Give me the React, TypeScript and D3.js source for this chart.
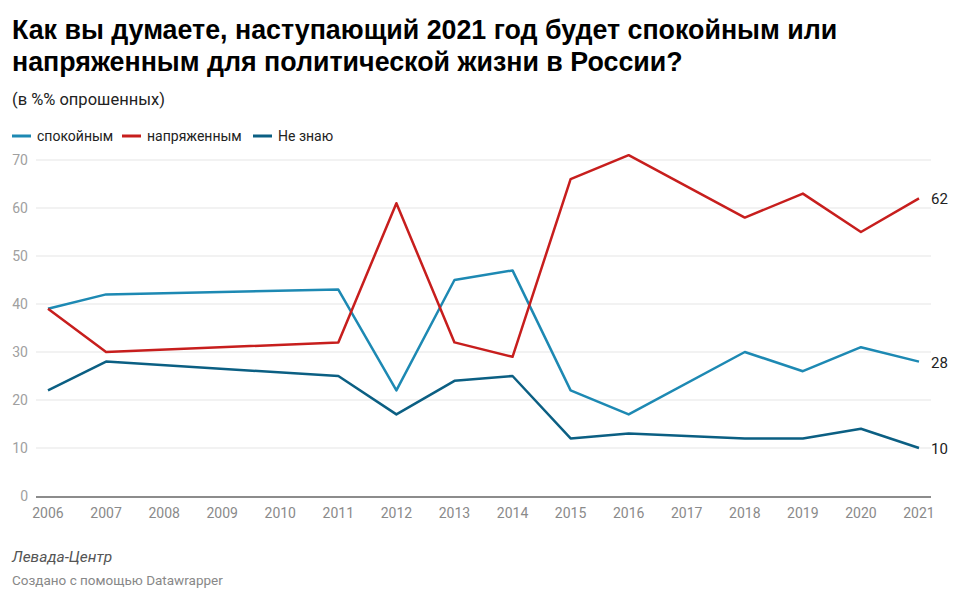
import React from "react";
import * as d3 from "d3";

const years = [2006, 2007, 2011, 2012, 2013, 2014, 2015, 2016, 2018, 2019, 2020, 2021];
const calm = [39, 42, 43, 22, 45, 47, 22, 17, 30, 26, 31, 28];
const tense = [39, 30, 32, 61, 32, 29, 66, 71, 58, 63, 55, 62];
const dontKnow = [22, 28, 25, 17, 24, 25, 12, 13, 12, 12, 14, 10];
const seriesNames = ["спокойным", "напряженным", "Не знаю"];
const seriesColors = ["#1d89b3", "#c71e1d", "#0b5f83"];
const yTicks = [0, 10, 20, 30, 40, 50, 60, 70];
const xTicks = d3.range(2006, 2022);

export default function App() {
  const W = 974, H = 608;
  const x = d3.scaleLinear().domain([2006, 2021]).range([48, 919]);
  const y = d3.scaleLinear().domain([0, 70]).range([496, 160]);
  const line = d3.line<[number, number]>().x(d => x(d[0])).y(d => y(d[1]));
  const allSeries = [calm, tense, dontKnow];
  const font = "Roboto, 'Noto Sans', sans-serif";
  const titleStyle = { fontFamily: "'Liberation Sans', 'DejaVu Sans', sans-serif" };
  return (
    <svg width={W} height={H} style={{ position: "absolute", left: 0, top: 0, background: "#fff" }} fontFamily={font}>
      <text x={12} y={38.5} fontSize={26.8} fontWeight={700} fill="#000" style={titleStyle}>Как вы думаете, наступающий 2021 год будет спокойным или</text>
      <text x={12} y={70.5} fontSize={26.8} fontWeight={700} fill="#000" style={titleStyle}>напряженным для политической жизни в России?</text>
      <text x={12} y={105} fontSize={16.5} fill="#222">(в %% опрошенных)</text>
      {seriesNames.map((n, i) => {
        const offs = [12, 122, 253];
        return (
          <g key={n}>
            <line x1={offs[i]} x2={offs[i] + 19} y1={136} y2={136} stroke={seriesColors[i]} strokeWidth={3} />
            <text x={offs[i] + 25} y={141} fontSize={14} fill="#222">{n}</text>
          </g>
        );
      })}
      {yTicks.map(t => (
        <g key={t}>
          {t > 0 && <line x1={36} x2={931} y1={y(t)} y2={y(t)} stroke="#e5e5e5" strokeWidth={1} />}
          <text x={28} y={y(t) + 5} fontSize={14} fill="#a0a0a0" textAnchor="end">{t}</text>
        </g>
      ))}
      <line x1={36} x2={931} y1={y(0) + 1} y2={y(0) + 1} stroke="#666" strokeWidth={1.5} />
      {xTicks.map(t => (
        <text key={t} x={x(t)} y={518} fontSize={14} fill="#8a8a8a" textAnchor="middle">{t}</text>
      ))}
      {allSeries.map((s, i) => (
        <path key={i} d={line(years.map((yr, j) => [yr, s[j]]) as [number, number][]) || ""} fill="none" stroke={seriesColors[i]} strokeWidth={2.5} strokeLinejoin="round" />
      ))}
      {allSeries.map((s, i) => (
        <text key={i} x={x(2021) + 12} y={y(s[s.length - 1]) + 6} fontSize={15} fill="#222">{s[s.length - 1]}</text>
      ))}
      <text x={12} y={562} fontSize={15.5} fontStyle="italic" fill="#555">Левада-Центр</text>
      <text x={12} y={585} fontSize={13.5} fill="#888">Создано с помощью Datawrapper</text>
    </svg>
  );
}
